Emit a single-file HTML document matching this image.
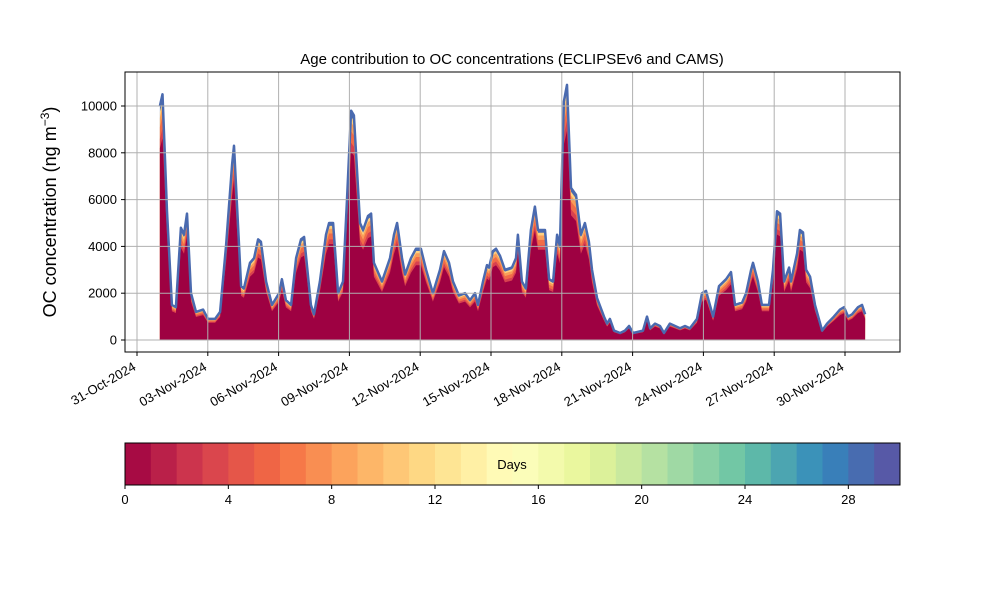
<!DOCTYPE html>
<html><head><meta charset="utf-8">
<style>
html,body{margin:0;padding:0;background:#fff;}
svg{display:block;font-family:"Liberation Sans","DejaVu Sans",sans-serif;}
</style></head>
<body>
<svg id="chart" width="1000" height="600" viewBox="0 0 1000 600" xmlns="http://www.w3.org/2000/svg">
<rect width="1000" height="600" fill="#fff"/>
<text x="512" y="64" font-size="15" text-anchor="middle">Age contribution to OC concentrations (ECLIPSEv6 and CAMS)</text>
<text transform="translate(56,212) rotate(-90)" font-size="18" text-anchor="middle">OC concentration (ng m<tspan font-size="12" dy="-7">−3</tspan><tspan dy="7">)</tspan></text>
<g id="layers"></g>
<g id="grid"></g>
<rect x="125" y="72" width="775" height="280" fill="none" stroke="#000" stroke-width="1"/>
<g id="axes"></g>
<g id="colorbar"></g>
</svg>
<script>
// day offsets since 31-Oct-2024 00:00
const days=[0.97,1.08,1.27,1.48,1.65,1.86,1.99,2.12,2.29,2.50,2.80,3.01,3.31,3.52,3.77,4.03,4.11,4.41,4.53,4.79,4.96,5.13,5.25,5.47,5.72,6.02,6.14,6.31,6.53,6.74,6.95,7.08,7.37,7.50,7.75,8.01,8.14,8.31,8.52,8.73,8.90,9.07,9.19,9.45,9.58,9.79,9.92,10.04,10.38,10.72,10.89,11.02,11.23,11.36,11.61,11.82,12.03,12.25,12.54,12.84,13.01,13.22,13.39,13.64,13.90,14.11,14.32,14.45,14.66,14.83,14.92,15.08,15.21,15.38,15.59,15.89,16.06,16.14,16.31,16.48,16.69,16.86,16.99,17.29,17.46,17.63,17.80,17.92,18.09,18.22,18.39,18.60,18.81,18.98,19.15,19.28,19.49,19.79,19.92,20.04,20.21,20.47,20.68,20.85,21.02,21.44,21.61,21.74,21.95,22.16,22.33,22.58,22.80,23.01,23.22,23.43,23.73,23.94,24.11,24.41,24.66,24.96,25.17,25.34,25.64,25.81,26.02,26.10,26.31,26.48,26.78,26.95,27.12,27.25,27.42,27.63,27.71,27.97,28.09,28.22,28.35,28.52,28.73,29.03,29.24,29.53,29.79,29.96,30.13,30.30,30.55,30.72,30.85];
const totals=[10000,10500,5500,1500,1400,4800,4500,5400,2000,1200,1300,900,900,1200,4000,7500,8300,2300,2200,3300,3500,4300,4200,2500,1500,2000,2600,1700,1500,3500,4300,4400,1500,1100,2500,4500,5000,5000,2000,2500,6000,9800,9600,5000,4700,5300,5400,3300,2500,3500,4500,5000,3500,2800,3500,3900,3900,3000,2000,3000,3800,3300,2500,1900,2000,1700,2000,1500,2500,3200,3100,3800,3900,3600,3000,3100,3500,4500,2500,2200,4700,5700,4700,4700,2600,2500,4500,4000,10200,10900,6500,6200,4500,5000,4200,3000,1800,1000,700,900,400,300,400,600,300,400,1000,500,700,600,300,700,600,500,600,500,900,2000,2100,1000,2300,2600,2900,1500,1600,2000,3000,3300,2500,1500,1500,3000,5500,5400,2500,3100,2500,3700,4700,4600,3000,2700,1500,400,700,1000,1300,1400,1000,1100,1400,1500,1100];
// cumulative age-layer fractions of total (top to bottom)
const layerFractions=[1.0,0.975,0.95,0.91,0.86,0.82];
const layerColors=['#4a6aaf','#fdd080','#f99d58','#f16c48','#d8414f','#9e0142'];
const yTicks=[0,2000,4000,6000,8000,10000];
const xTickDays=[0,3,6,9,12,15,18,21,24,27,30];
const xTickLabels=['31-Oct-2024','03-Nov-2024','06-Nov-2024','09-Nov-2024','12-Nov-2024','15-Nov-2024','18-Nov-2024','21-Nov-2024','24-Nov-2024','27-Nov-2024','30-Nov-2024'];
const cbTicks=[0,4,8,12,16,20,24,28];

const NS='http://www.w3.org/2000/svg';
const X=d=>137+23.6*d, Y=v=>340-0.0234*v;
function mk(t,a,p){const e=document.createElementNS(NS,t);for(const k in a)e.setAttribute(k,a[k]);p.appendChild(e);return e;}
const L=document.getElementById('layers');
layerFractions.forEach((f,i)=>{
  let d='M'+X(days[0])+','+Y(0);
  days.forEach((dd,j)=>{d+=' L'+X(dd).toFixed(1)+','+Y(totals[j]*f).toFixed(1);});
  d+=' L'+X(days[days.length-1])+','+Y(0)+' Z';
  const p=mk('path',{d:d,fill:layerColors[i]},L);
  
  
});
let od='';
days.forEach((dd,j)=>{od+=(j?' L':'M')+X(dd).toFixed(1)+','+Y(totals[j]).toFixed(1);});
const ol=mk('path',{d:od,fill:'none',stroke:'#4a6aaf','stroke-width':2.5,'stroke-linejoin':'round'},L);


const G=document.getElementById('grid'), A=document.getElementById('axes');
yTicks.forEach(v=>{
  const g=mk('line',{x1:125,x2:900,y1:Y(v),y2:Y(v),stroke:'#b0b0b0','stroke-width':1},G);
  
  
  mk('line',{x1:121,x2:125,y1:Y(v),y2:Y(v),stroke:'#000'},A);
  const t=mk('text',{x:117,y:Y(v)+4.5,'font-size':13,'text-anchor':'end'},A);
  t.textContent=v;
  
  
});
xTickDays.forEach((d,i)=>{
  const x=X(d);
  const g=mk('line',{x1:x,x2:x,y1:72,y2:352,stroke:'#b0b0b0','stroke-width':1},G);
  
  
  mk('line',{x1:x,x2:x,y1:352,y2:356,stroke:'#000'},A);
  const t=mk('text',{transform:'translate('+(x-5)+',361) rotate(-30)','font-size':13,'text-anchor':'end','dominant-baseline':'hanging'},A);
  t.textContent=xTickLabels[i];
  
  
});
// colorbar
const C=document.getElementById('colorbar');
const sp=[[158,1,66],[213,62,79],[244,109,67],[253,174,97],[254,224,139],[255,255,191],[230,245,152],[171,221,164],[102,194,165],[50,136,189],[94,79,162]];
function spec(t){const s=t*10,i=Math.min(9,Math.floor(s)),f=s-i;return 'rgb('+sp[i].map((c,k)=>Math.round(c+(sp[i+1][k]-c)*f)).join(',')+')';}
const cx=v=>125+775*v/30;
for(let k=0;k<30;k++){
  const r=mk('rect',{x:cx(k),y:443,width:775/30+0.5,height:42,fill:spec((k+0.5)/30)},C);
  
  
}
mk('rect',{x:125,y:443,width:775,height:42,fill:'none',stroke:'#000'},C);
const dl=mk('text',{x:512,y:469,'font-size':13,'text-anchor':'middle'},C);
dl.textContent='Days';


cbTicks.forEach(v=>{
  mk('line',{x1:cx(v),x2:cx(v),y1:485,y2:489,stroke:'#000'},C);
  const t=mk('text',{x:cx(v),y:504,'font-size':13,'text-anchor':'middle'},C);
  t.textContent=v;
  
  
});
</script>
</body></html>
